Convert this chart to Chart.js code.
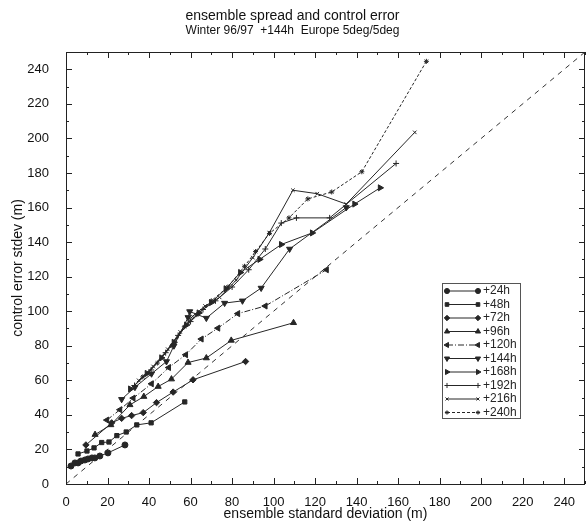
<!DOCTYPE html>
<html>
<head>
<meta charset="utf-8">
<script src="https://cdn.jsdelivr.net/npm/chart.js@4.4.1/dist/chart.umd.min.js"></script>
<style>
  html, body { margin: 0; padding: 0; background: #fff; }
  #wrap { width: 586px; height: 528px; }
</style>
</head>
<body>
<div id="wrap"><canvas id="chart" width="586" height="528"></canvas></div>
<script>
// forecast steps shown in the legend
const steps = ['+24h', '+48h', '+72h', '+96h', '+120h', '+144h', '+168h', '+192h', '+216h', '+240h'];

// [ensemble std dev, control error stdev] pairs
const h24 = [[2.4, 10.4], [4.3, 12.2], [5.8, 12.2], [7.2, 13.3], [9.1, 13.9], [10.6, 14.5], [12.5, 15.1], [13.9, 15.1], [16.3, 16.2], [20.2, 18.0], [28.4, 22.6]];
const h48 = [[5.8, 17.4], [10.1, 19.1], [13.5, 20.9], [17.2, 24.0], [20.7, 24.3], [24.5, 28.0], [29.0, 30.1], [34.1, 34.2], [41.0, 35.4], [57.2, 47.5]];
const h72 = [[9.6, 22.6], [22.0, 35.4], [26.8, 38.0], [31.6, 39.6], [37.2, 41.3], [43.6, 47.1], [51.6, 53.2], [61.2, 60.3], [86.5, 70.9]];
const h96 = [[14.0, 28.6], [21.6, 34.2], [30.8, 45.8], [37.5, 50.6], [44.4, 56.4], [50.8, 60.7], [58.8, 70.3], [67.6, 72.9], [79.6, 83.1], [109.6, 93.3]];
const h120 = [[19.7, 37.0], [26.0, 43.0], [32.4, 49.7], [41.2, 58.0], [49.5, 67.4], [57.7, 74.8], [65.2, 83.9], [73.2, 90.2], [82.8, 98.6], [96.0, 103.0], [125.5, 124.0]];
const h144 = [[26.8, 49.0], [33.2, 56.0], [41.2, 63.8], [48.4, 70.9], [52.0, 80.0], [58.8, 96.4], [59.6, 99.8], [67.6, 96.0], [76.4, 104.7], [85.0, 106.0], [94.0, 113.4], [107.7, 136.0], [135.0, 160.0]];
const h168 = [[31.0, 55.0], [39.0, 64.0], [46.0, 73.0], [52.0, 82.0], [58.0, 92.0], [64.0, 99.0], [70.0, 105.0], [77.0, 113.0], [84.0, 122.4], [93.3, 130.0], [103.7, 138.6], [118.6, 145.3], [139.0, 162.0], [151.3, 171.4]];
const h192 = [[33.0, 57.0], [41.0, 66.0], [48.0, 76.0], [54.0, 86.0], [60.0, 94.0], [66.0, 101.0], [72.0, 106.0], [80.0, 114.0], [88.0, 124.0], [96.0, 136.0], [103.7, 151.0], [111.0, 154.0], [127.0, 154.0], [159.0, 185.5]];
const h216 = [[35.0, 60.0], [42.0, 68.0], [49.0, 78.0], [55.0, 88.0], [61.0, 97.0], [67.0, 103.0], [74.0, 108.0], [82.0, 118.0], [90.0, 131.0], [98.0, 145.5], [109.3, 170.0], [121.0, 168.0], [135.0, 162.0], [168.0, 203.5]];
const h240 = [[37.0, 62.0], [44.0, 70.0], [51.0, 80.0], [57.0, 91.0], [63.0, 98.0], [70.0, 106.0], [78.0, 114.0], [86.0, 126.0], [91.3, 134.5], [98.0, 145.0], [107.4, 154.0], [116.5, 165.0], [128.0, 169.0], [142.5, 180.7], [173.6, 244.6]];

// reference line y = x
const diagonal = [0, 250];

const xTicks = [0, 20, 40, 60, 80, 100, 120, 140, 160, 180, 200, 220, 240];
const yTicks = [0, 20, 40, 60, 80, 100, 120, 140, 160, 180, 200, 220, 240];

const allSeries = [h24, h48, h72, h96, h120, h144, h168, h192, h216, h240];

// marker look per step
const markerStyle = [
    { style: 'circle', rot: 0, r: 3 },
    { style: 'rect', rot: 0, r: 3 },
    { style: 'rectRot', rot: 0, r: 3.2 },
    { style: 'triangle', rot: 0, r: 3.5 },
    { style: 'triangle', rot: -90, r: 3.5 },
    { style: 'triangle', rot: 180, r: 3.5 },
    { style: 'triangle', rot: 90, r: 3.5 },
    { style: 'cross', rot: 0, r: 3 },
    { style: 'crossRot', rot: 0, r: 2.5 },
    { style: 'star', rot: 0, r: 2.5 }
];
const lineDash = [[], [], [], [], [6, 2, 1, 2], [], [], [], [], [3, 2]];
const ink = '#262626';

const datasets = allSeries.map((pts, i) => ({
    label: steps[i],
    data: pts.map(p => ({ x: p[0], y: p[1] })),
    showLine: true,
    borderColor: ink,
    backgroundColor: ink,
    borderWidth: 1,
    borderDash: lineDash[i],
    pointStyle: markerStyle[i].style,
    rotation: markerStyle[i].rot,
    pointRadius: markerStyle[i].r,
    pointBorderWidth: 1,
    tension: 0
}));

datasets.push({
    label: 'diag',
    data: diagonal.map(v => ({ x: v, y: v })),
    showLine: true,
    borderColor: '#333',
    borderWidth: 1,
    borderDash: [5, 5],
    pointRadius: 0,
    order: 20
});

// frame with inward major/minor ticks on all four sides
const framePlugin = {
    id: 'frame',
    afterDatasetsDraw(chart) {
        const { ctx, chartArea: a, scales } = chart;
        ctx.save();
        ctx.strokeStyle = '#222';
        ctx.lineWidth = 1;
        ctx.strokeRect(Math.round(a.left) + 0.5, Math.round(a.top) + 0.5, Math.round(a.right - a.left) - 1, Math.round(a.bottom - a.top));
        ctx.beginPath();
        for (let v = 0; v <= 250; v += 10) {
            const len = v % 20 === 0 ? 6 : 3;
            const px = Math.round(scales.x.getPixelForValue(v)) + 0.5;
            ctx.moveTo(px, a.bottom); ctx.lineTo(px, a.bottom - len);
            ctx.moveTo(px, a.top); ctx.lineTo(px, a.top + len);
            const py = Math.round(scales.y.getPixelForValue(v)) + 0.5;
            ctx.moveTo(a.left, py); ctx.lineTo(a.left + len, py);
            ctx.moveTo(a.right, py); ctx.lineTo(a.right - len, py);
        }
        ctx.stroke();
        ctx.restore();
    }
};

// legend box inside the plot, lower right
const legendPlugin = {
    id: 'boxLegend',
    afterDraw(chart) {
        const { ctx, chartArea: a } = chart;
        const left = a.right - 143, top = a.top + 231, w = 78, h = 135;
        ctx.save();
        ctx.strokeStyle = '#555';
        ctx.lineWidth = 1;
        ctx.strokeRect(left + 0.5, top + 0.5, w, h);
        ctx.font = '12px "Liberation Sans", Arial, sans-serif';
        ctx.textBaseline = 'middle';
        steps.forEach((s, i) => {
            const y = top + 8 + i * 13.5;
            const x0 = left + 5, x1 = left + 36;
            ctx.strokeStyle = ink;
            ctx.setLineDash(lineDash[i]);
            ctx.beginPath();
            ctx.moveTo(x0, y); ctx.lineTo(x1, y);
            ctx.stroke();
            ctx.setLineDash([]);
            ctx.fillStyle = ink;
            const opt = { pointStyle: markerStyle[i].style, rotation: markerStyle[i].rot, radius: markerStyle[i].r * 0.85, borderWidth: 1 };
            Chart.helpers.drawPoint(ctx, opt, x0, y);
            Chart.helpers.drawPoint(ctx, opt, x1, y);
            ctx.fillText(s, x1 + 5, y);
        });
        ctx.restore();
    }
};

const tickFont = { family: '"Liberation Sans", Arial, sans-serif', size: 13 };

new Chart(document.getElementById('chart'), {
    type: 'scatter',
    data: { datasets },
    options: {
        responsive: false,
        animation: false,
        devicePixelRatio: 1,
        layout: { autoPadding: false, padding: { left: 0, right: 1, top: 0, bottom: 0 } },
        plugins: {
            legend: { display: false },
            tooltip: { enabled: false },
            title: {
                display: true,
                text: 'ensemble spread and control error',
                color: '#111',
                font: { family: '"Liberation Sans", Arial, sans-serif', size: 14, weight: 'normal', lineHeight: 1 },
                padding: { top: 9, bottom: 0 }
            },
            subtitle: {
                display: true,
                text: 'Winter 96/97  +144h  Europe 5deg/5deg',
                color: '#111',
                font: { family: '"Liberation Sans", Arial, sans-serif', size: 12, lineHeight: 1 },
                padding: { top: 2, bottom: 15 }
            }
        },
        scales: {
            x: {
                type: 'linear',
                min: 0,
                max: 250,
                afterBuildTicks: s => { s.ticks = xTicks.map(v => ({ value: v })); },
                afterFit: s => { s.height = 44; },
                grid: { display: false },
                border: { display: false },
                ticks: { color: '#111', font: tickFont, padding: 3, maxRotation: 0, autoSkip: false },
                title: {
                    display: true,
                    text: 'ensemble standard deviation (m)',
                    color: '#111',
                    font: { family: '"Liberation Sans", Arial, sans-serif', size: 14 },
                    padding: { top: 2, bottom: 5 }
                }
            },
            y: {
                type: 'linear',
                min: 0,
                max: 250,
                afterBuildTicks: s => { s.ticks = yTicks.map(v => ({ value: v })); },
                afterFit: s => { s.width = 66; },
                grid: { display: false },
                border: { display: false },
                ticks: { color: '#111', font: tickFont, padding: 9, autoSkip: false },
                title: {
                    display: true,
                    text: 'control error stdev (m)',
                    color: '#111',
                    font: { family: '"Liberation Sans", Arial, sans-serif', size: 14 },
                    padding: { top: 10, bottom: 4 }
                }
            }
        }
    },
    plugins: [framePlugin, legendPlugin]
});
</script>
</body>
</html>
